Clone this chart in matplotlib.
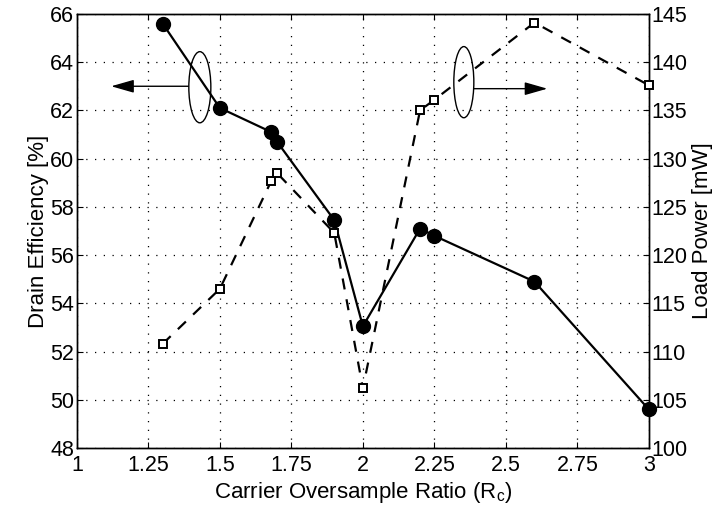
import numpy as np
import matplotlib.pyplot as plt
from matplotlib.patches import Ellipse

plt.rcParams["font.family"] = "Liberation Sans"
plt.rcParams["mathtext.fontset"] = "custom"
plt.rcParams["mathtext.rm"] = "Liberation Sans"

# ------------------------------------------ data
ratio = [1.3, 1.5, 1.68, 1.7, 1.9, 2.0, 2.2, 2.25, 2.6, 3.0]
efficiency = [65.6, 62.1, 61.1, 60.7, 57.45, 53.05, 57.1, 56.8, 54.9, 49.6]
load_power = [110.8, 116.5, 127.7, 128.5, 122.3, 106.2, 135.0, 136.1, 144.1, 137.6]

x_ticks = [1, 1.25, 1.5, 1.75, 2, 2.25, 2.5, 2.75, 3]
x_ticklabels = ['1', '1.25', '1.5', '1.75', '2', '2.25', '2.5', '2.75', '3']
eff_ticks = list(range(48, 67, 2))
pow_ticks = list(range(100, 146, 5))

# ------------------------------------------ fig and axes
fig = plt.figure(figsize=(7.25, 5.15), dpi=100)
ax1 = fig.add_axes([0.106, 0.130, 0.789, 0.843])
ax2 = ax1.twinx()

fs = 15.5
ax1.plot(ratio, efficiency, '-', color='black', lw=1.6, marker='o', ms=10,
         markerfacecolor='black', clip_on=False, zorder=3)
ax2.plot(ratio, load_power, '--', color='black', lw=1.6, dashes=(5, 4.5),
         marker='s', ms=6, markerfacecolor='white', markeredgewidth=1.4,
         clip_on=False, zorder=3)

ax1.set_xlim(1, 3)
ax1.set_ylim(48, 66)
ax2.set_ylim(100, 145)
ax1.set_xticks(x_ticks)
ax1.set_xticklabels(x_ticklabels)
ax1.set_yticks(eff_ticks)
ax2.set_yticks(pow_ticks)

ax1.grid(True, linestyle=(0, (1, 6)), color='black', lw=0.9)
for ax in (ax1, ax2):
    ax.tick_params(direction='in', labelsize=fs, length=4, width=0.8, pad=2)
    for s in ax.spines.values():
        s.set_linewidth(1.0)
ax1.tick_params(axis='x', pad=5)
ax1.tick_params(top=True)
ax1.set_xlabel('Carrier Oversample Ratio (R$_{\\mathrm{c}}$)', fontsize=16, labelpad=3)
ax1.set_ylabel('Drain Efficiency [%]', fontsize=16, labelpad=1)
ax2.set_ylabel('Load Power [mW]', fontsize=16, labelpad=3)

# ------------------------------------------ ellipse + arrow markers
ax1.add_patch(Ellipse((1.43, 62.96), 0.077, 2.95, fill=False, lw=1.0, color='black', zorder=4))
ax1.annotate('', xy=(1.12, 63.0), xytext=(1.39, 63.0),
             arrowprops=dict(arrowstyle='-|>,head_length=1.4,head_width=0.4',
                             color='black', lw=1.0, shrinkA=0, shrinkB=0))
ax1.add_patch(Ellipse((2.353, 63.17), 0.07, 2.95, fill=False, lw=1.0, color='black', zorder=4))
ax1.annotate('', xy=(2.645, 62.9), xytext=(2.388, 62.9),
             arrowprops=dict(arrowstyle='-|>,head_length=1.4,head_width=0.4',
                             color='black', lw=1.0, shrinkA=0, shrinkB=0))

fig.savefig('out.png', dpi=100)
